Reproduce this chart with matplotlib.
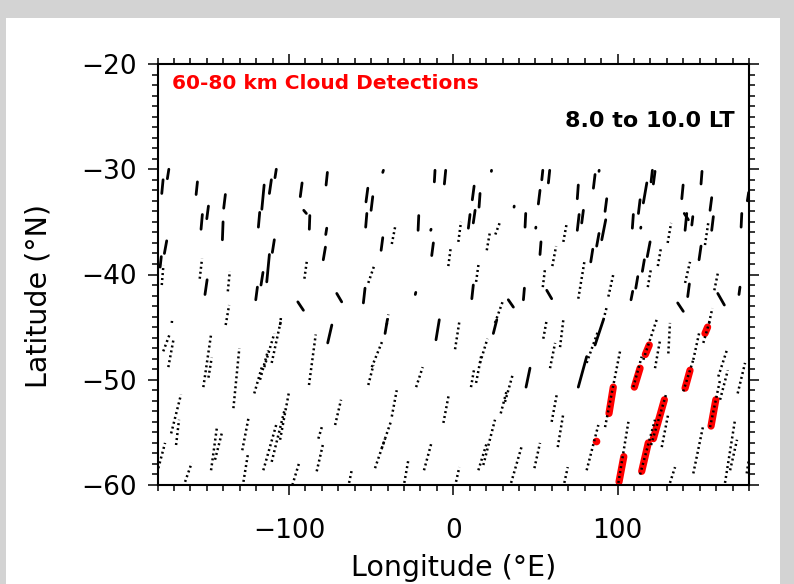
import matplotlib.pyplot as plt
from matplotlib.patches import Rectangle
import numpy as np

# orbit track pieces as (lon start, lat start, lon end, lat end)
dense_tracks = [
    (-174.0, -30.9, -173.1, -30.0), (-177.4, -32.3, -176.6, -31.0),
    (-156.5, -32.4, -155.7, -31.2), (-139.7, -33.7, -138.7, -32.4),
    (-150.0, -34.7, -149.0, -33.5), (-153.5, -35.7, -152.7, -34.3),
    (-140.5, -36.7, -140.1, -35.0), (-116.5, -33.8, -115.1, -31.5),
    (-111.9, -32.3, -110.7, -31.0), (-108.5, -30.8, -107.7, -30.0),
    (-118.6, -35.5, -117.8, -34.1), (-93.1, -32.6, -92.0, -31.3),
    (-77.4, -31.5, -76.6, -30.3), (-87.6, -35.7, -87.3, -34.4),
    (-91.0, -33.9, -89.4, -34.2), (-77.6, -36.2, -77.0, -35.6),
    (-79.1, -38.6, -77.8, -37.4), (-175.8, -38.0, -174.4, -36.8),
    (-178.4, -39.3, -177.7, -38.3), (-110.1, -37.9, -108.9, -36.7),
    (-113.5, -40.7, -111.9, -38.1), (-117.0, -41.0, -115.8, -39.8),
    (-120.2, -42.4, -119.2, -41.2), (-151.1, -41.9, -149.8, -40.5),
    (-94.6, -42.6, -91.2, -43.4), (-70.9, -41.8, -67.9, -42.6),
    (-42.9, -30.3, -42.5, -30.1), (-11.5, -31.2, -11.1, -30.1),
    (-5.4, -31.4, -4.6, -30.1), (23.2, -30.2, 23.3, -30.1),
    (53.9, -31.0, 54.5, -30.1), (57.9, -31.3, 58.7, -30.1),
    (-53.1, -33.1, -52.0, -31.8), (-50.0, -33.9, -49.0, -32.6),
    (-53.3, -35.5, -52.6, -34.2), (-21.4, -35.8, -21.0, -34.4),
    (-13.7, -35.8, -13.5, -35.7), (-43.9, -37.7, -42.9, -36.5),
    (-13.1, -38.2, -12.1, -37.0), (9.2, -35.6, 10.2, -34.3),
    (12.2, -35.1, 13.3, -33.9), (11.6, -32.9, 12.7, -31.6),
    (15.7, -33.6, 16.3, -32.3), (37.0, -33.6, 37.1, -33.5),
    (43.7, -35.5, 44.1, -34.2), (50.2, -35.6, 50.3, -35.5),
    (51.8, -33.3, 52.8, -32.0), (52.8, -38.1, 53.4, -36.9),
    (-54.7, -42.7, -53.7, -41.3), (-23.1, -41.9, -22.8, -41.7),
    (11.3, -42.3, 12.2, -41.0), (33.5, -42.4, 36.6, -43.1),
    (42.7, -42.4, 43.3, -41.3), (56.9, -41.5, 59.9, -42.3),
    (85.3, -31.8, 86.3, -30.5), (88.7, -30.2, 88.8, -30.1),
    (75.5, -32.8, 76.1, -31.5), (92.4, -34.0, 93.4, -32.8),
    (75.5, -35.8, 76.6, -34.3), (78.2, -35.1, 79.2, -33.9),
    (90.4, -36.7, 92.8, -34.8), (87.3, -37.3, 88.7, -36.1),
    (83.7, -38.8, 84.9, -37.6), (109.0, -35.6, 109.6, -34.3),
    (114.1, -35.6, 114.2, -35.5), (112.7, -34.2, 113.7, -32.9),
    (115.7, -33.2, 117.8, -31.3), (120.4, -31.2, 121.2, -30.1),
    (121.8, -31.4, 122.8, -30.2), (118.1, -38.3, 119.8, -36.9),
    (115.1, -39.7, 116.3, -38.6), (111.1, -41.3, 112.3, -40.2),
    (108.2, -42.4, 109.2, -41.6), (139.1, -32.8, 139.9, -31.5),
    (150.8, -31.4, 151.4, -30.2), (156.3, -33.9, 157.3, -32.7),
    (141.1, -35.8, 142.1, -34.2), (140.6, -34.2, 143.1, -34.8),
    (145.2, -35.3, 145.8, -34.5), (157.3, -35.8, 158.3, -34.5),
    (149.6, -38.6, 150.8, -37.3), (142.7, -42.1, 143.7, -40.9),
    (136.6, -42.7, 140.0, -43.5), (161.0, -41.8, 165.0, -42.9),
    (175.2, -35.5, 175.6, -34.2), (173.9, -41.9, 174.5, -41.2),
    (179.0, -33.0, 179.8, -32.2), (-41.5, -45.6, -40.1, -44.3),
    (-10.5, -46.2, -8.5, -44.3), (24.4, -45.6, 26.5, -44.3),
    (44.3, -50.7, 46.7, -48.9), (76.1, -50.7, 81.2, -47.8),
    (86.3, -46.7, 91.4, -44.3), (-76.4, -46.5, -73.9, -44.8),
]

dotted_tracks = [
    (-177.4, -41.0, -176.4, -39.1), (-154.3, -40.4, -152.9, -38.5),
    (-137.2, -41.6, -136.0, -39.7), (-90.6, -40.4, -89.0, -38.6),
    (-138.5, -44.8, -136.4, -42.9), (-171.3, -44.6, -171.1, -44.3),
    (-105.4, -44.8, -104.8, -44.0), (-37.4, -37.1, -35.4, -35.5),
    (-3.0, -39.2, -1.5, -37.4), (3.1, -36.9, 4.7, -35.0),
    (20.4, -37.7, 22.4, -35.9), (25.6, -36.2, 28.5, -35.0),
    (-51.7, -40.8, -48.2, -39.2), (13.9, -40.7, 15.5, -38.9),
    (25.4, -44.6, 30.5, -42.4), (54.5, -41.2, 55.9, -39.4),
    (-40.5, -44.8, -39.5, -43.8), (67.0, -36.9, 69.1, -35.1),
    (60.3, -39.2, 62.6, -37.3), (76.1, -42.3, 79.8, -38.8),
    (94.4, -42.1, 97.4, -40.0), (91.4, -44.3, 93.4, -43.1),
    (130.5, -37.0, 132.6, -35.1), (124.5, -39.2, 126.5, -37.4),
    (118.4, -41.2, 120.4, -39.4), (153.2, -37.2, 155.3, -35.0),
    (141.1, -40.8, 144.1, -38.8), (158.9, -41.5, 161.0, -39.9),
    (155.7, -44.6, 157.7, -43.2),
    (-176.5, -47.3, -172.4, -45.6), (-173.4, -48.8, -170.3, -46.2),
    (-152.1, -50.7, -147.4, -45.7), (-149.0, -49.8, -147.0, -47.9),
    (-133.8, -52.7, -130.2, -47.0), (-121.1, -51.3, -116.5, -48.8),
    (-117.6, -50.0, -112.7, -47.2), (-115.0, -48.8, -108.9, -45.6),
    (-110.5, -48.4, -104.8, -44.3), (-87.8, -50.5, -83.7, -45.7),
    (-171.7, -55.1, -165.7, -51.4), (-168.7, -56.2, -166.9, -53.8),
    (-179.5, -58.4, -175.4, -56.0), (-163.2, -59.7, -159.2, -57.9),
    (-147.4, -58.6, -143.9, -54.6), (-145.0, -57.6, -140.9, -55.1),
    (-127.7, -59.7, -124.9, -57.0), (-128.4, -56.7, -124.7, -53.7),
    (-115.6, -58.6, -107.4, -54.1), (-110.5, -57.8, -102.4, -52.7),
    (-105.4, -55.7, -99.9, -51.1), (-97.9, -60.0, -93.8, -57.9),
    (-83.1, -58.7, -79.1, -56.0), (-82.1, -55.6, -80.0, -54.5),
    (-71.9, -54.3, -68.3, -51.9), (-63.4, -59.8, -61.8, -58.6),
    (-51.7, -50.5, -48.6, -48.6), (-49.6, -48.8, -43.1, -46.3),
    (1.1, -47.1, 3.7, -44.5), (-22.6, -50.7, -18.6, -48.8),
    (-37.4, -53.5, -34.4, -51.0), (-47.6, -58.4, -41.5, -55.6),
    (-43.5, -56.5, -38.0, -54.0), (-29.8, -59.8, -27.3, -57.6),
    (-17.8, -58.6, -13.1, -55.9), (-6.0, -54.1, -2.7, -51.4),
    (1.7, -59.7, 3.7, -58.3), (10.8, -50.7, 12.8, -48.9),
    (13.9, -50.3, 17.3, -47.5), (16.3, -48.4, 20.8, -46.1),
    (28.9, -53.2, 32.6, -51.0), (31.5, -52.1, 36.2, -49.5),
    (15.3, -58.6, 20.4, -56.0), (18.3, -58.1, 25.4, -53.8),
    (35.2, -59.8, 41.7, -56.3), (49.4, -58.4, 52.8, -56.0),
    (54.8, -46.1, 56.9, -44.3), (58.9, -48.9, 62.0, -46.5),
    (65.0, -46.9, 67.0, -44.3), (81.2, -48.4, 88.3, -45.3),
    (59.9, -54.0, 63.0, -51.4), (63.6, -56.4, 67.0, -53.2),
    (67.6, -59.8, 69.7, -58.3), (81.2, -58.6, 88.3, -54.3),
    (92.4, -54.5, 101.5, -47.3), (100.5, -59.8, 106.6, -54.0),
    (109.6, -50.7, 114.7, -47.8), (115.7, -48.1, 123.8, -44.3),
    (113.7, -59.0, 122.8, -53.8), (120.4, -56.2, 129.5, -51.4),
    (126.9, -56.4, 130.9, -53.2), (122.8, -48.9, 125.9, -46.2),
    (130.9, -47.5, 131.9, -44.6), (140.0, -51.1, 146.1, -48.1),
    (146.1, -48.1, 149.6, -45.6), (152.2, -46.5, 156.3, -44.3),
    (156.3, -54.5, 162.4, -50.0), (161.3, -49.7, 166.5, -47.2),
    (162.4, -51.9, 167.1, -49.1), (173.1, -51.3, 177.6, -48.4),
    (146.1, -58.9, 152.2, -54.3), (165.4, -59.8, 171.5, -53.8),
    (168.5, -58.6, 172.7, -55.7), (178.6, -58.9, 179.9, -57.6),
    (131.9, -59.8, 135.0, -58.3),
]

# 60-80 km cloud detections
cloud_tracks = [
    (100.9, -59.7, 103.8, -57.3), (114.7, -58.7, 118.7, -56.0),
    (121.8, -55.6, 128.5, -51.9), (94.8, -53.2, 97.4, -50.7),
    (110.2, -50.7, 113.7, -48.9), (116.9, -47.6, 119.3, -46.7),
    (141.1, -50.8, 144.1, -49.1), (153.2, -45.6, 154.8, -45.0),
    (156.9, -54.4, 159.8, -51.9),
]
cloud_lon = [86.7]
cloud_lat = [-55.8]

W, H = 794, 584
fig = plt.figure(figsize=(W / 100, H / 100), dpi=100, facecolor="#d3d3d3")
fig.add_artist(Rectangle((6 / W, 0), 774 / W, 566 / H, transform=fig.transFigure,
                         facecolor="white", edgecolor="none", zorder=-10))
ax = fig.add_axes([157.5 / W, (H - 485) / H, 591.5 / W, 421 / H])

for lon0, lat0, lon1, lat1 in cloud_tracks:
    ax.plot([lon0, lon1], [lat0, lat1], color="red", lw=5.2,
            solid_capstyle="round", zorder=2)
ax.plot(cloud_lon, cloud_lat, "o", color="red", ms=5.5, mew=0, zorder=2)

for lon0, lat0, lon1, lat1 in dense_tracks:
    ax.plot([lon0, lon1], [lat0, lat1], color="black", lw=2.0,
            solid_capstyle="round", zorder=3)

for lon0, lat0, lon1, lat1 in dotted_tracks:
    ax.plot([lon0, lon1], [lat0, lat1], color="black", lw=1.8,
            linestyle=(0, (0.8, 1.2)), dash_capstyle="butt", zorder=3)

ax.set_xlim(-180, 180)
ax.set_ylim(-60, -20)
ax.set_xticks([-100, 0, 100])
ax.set_xticks(np.arange(-180, 181, 10), minor=True)
ax.set_yticks(np.arange(-60, -19, 10))
ax.set_yticks(np.arange(-60, -19, 1), minor=True)

ax.tick_params(which="both", direction="out", top=True, right=True, width=1.1)
ax.tick_params(which="major", length=7, labelsize=19)
ax.tick_params(which="minor", length=4)
ax.tick_params(axis="x", which="major", pad=17)
ax.tick_params(axis="y", which="major", pad=8)
for spine in ax.spines.values():
    spine.set_linewidth(1.5)

ax.set_xlabel("Longitude (°E)", fontsize=20.5, va="center")
ax.xaxis.set_label_coords(0.5, -0.197)
ax.set_ylabel("Latitude (°N)", fontsize=20.5, va="center")
ax.yaxis.set_label_coords(-0.202, 0.45)

ax.text(0.025, 0.9525, "60-80 km Cloud Detections", transform=ax.transAxes,
        color="red", fontsize=14.5, fontweight="bold", va="center", ha="left")
ax.text(0.976, 0.8646, "8.0 to 10.0 LT", transform=ax.transAxes,
        color="black", fontsize=16, fontweight="bold", va="center", ha="right")

fig.savefig("out.png", dpi=100, facecolor=fig.get_facecolor())
